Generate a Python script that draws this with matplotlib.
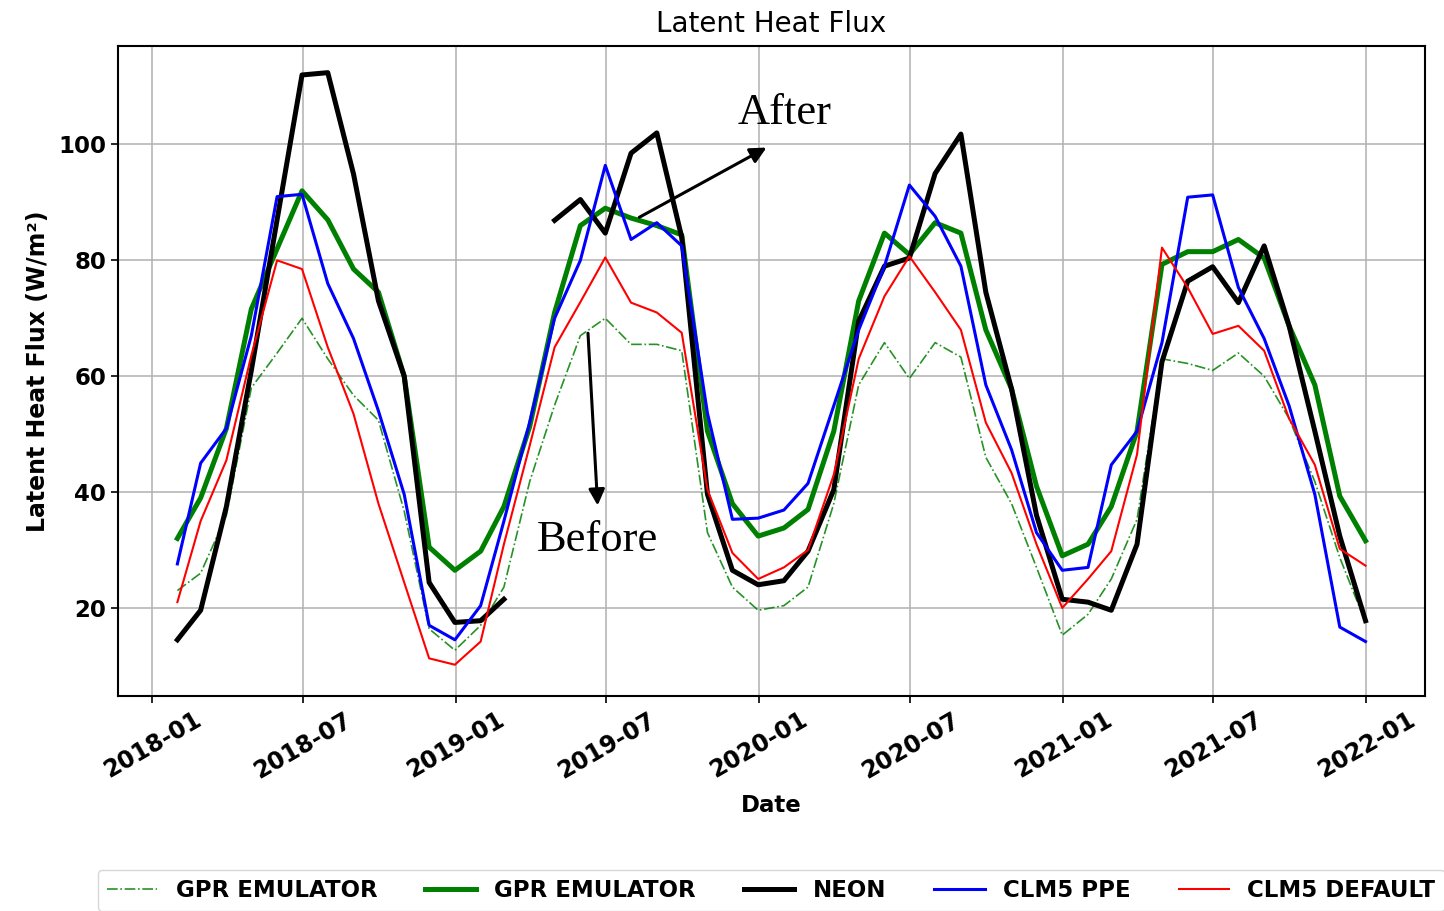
import numpy as np
import pandas as pd
import matplotlib
matplotlib.use("Agg")
from matplotlib import pyplot as plt
import matplotlib.dates as mdates

# monthly means, Jan 2018 .. Dec 2021 (month-end dates)
dates = pd.date_range("2018-01-31", periods=48, freq="ME")

gpr_before = [23, 26, 36, 58, 64, 70, 63, 56.7, 52.4, 36.7, 16.4, 12.7,
              17, 23.6, 41.8, 55, 67, 70, 65.5, 65.5, 64.4, 33, 23.6, 19.6,
              20.4, 23.6, 38, 58.5, 65.8, 59.6, 65.8, 63.3, 46, 38, 27, 15.3,
              18.9, 25, 35.3, 63, 62.2, 61, 64, 60, 52.7, 41.8, 28.7, 17.5]

gpr_after = [32, 39, 51, 71.6, 82, 92, 87, 78.5, 74.5, 60, 30.5, 26.5,
             29.8, 37.5, 51.3, 71, 86, 89, 87.3, 86, 84.4, 50.5, 38, 32.4,
             33.8, 37, 50.5, 73, 84.7, 81, 86.5, 84.7, 68, 57.8, 41, 29,
             31, 37.5, 50.5, 79.3, 81.5, 81.5, 83.6, 80.4, 68.7, 58.5, 39.3, 31.6]

# March 2019 missing in the tower record
neon = [14.5, 19.6, 37.5, 61, 87, 112, 112.4, 94.9, 73, 60, 24.4, 17.5,
        17.8, 21.5, np.nan, 86.9, 90.5, 84.7, 98.5, 102, 84, 39.6, 26.5, 24,
        24.7, 29.8, 40.4, 69.5, 79, 80.4, 95, 101.8, 74.5, 57.8, 36, 21.5,
        21, 19.6, 31, 62.5, 76.4, 78.9, 72.7, 82.5, 68.7, 50.5, 32.4, 17.8]

clm5_ppe = [27.6, 45, 51, 67, 91, 91.4, 76, 66.5, 54, 39.6, 17, 14.5,
            20.4, 35, 52, 70, 80, 96.4, 83.6, 86.5, 82.5, 53.6, 35.3, 35.5,
            36.9, 41.5, 54.9, 68, 79, 93, 87.6, 79, 58.5, 47.3, 33, 26.5,
            27, 44.7, 50.5, 65.8, 90.9, 91.3, 75.3, 66.5, 54.9, 39.6, 16.7, 14.2]

clm5_default = [21, 35, 45.5, 63.6, 80, 78.5, 65, 53.5, 38, 24.4, 11.3, 10.2,
                14.2, 31, 48, 65, 72.8, 80.5, 72.7, 71, 67.5, 40.4, 29.5, 25,
                27, 30, 43, 63, 73.8, 80.7, 74.5, 68, 52, 43.3, 31, 20,
                25, 29.8, 46.5, 82.2, 75.3, 67.3, 68.7, 64.4, 52.7, 44.7, 30.2, 27.3]

fig = plt.figure(figsize=(14.44, 9.11), dpi=100)
ax = fig.add_axes([0.0817, 0.236, 0.9051, 0.7135])

ax.plot(dates, gpr_before, color="green", ls="-.", lw=1.2, alpha=0.85, label="GPR EMULATOR")
ax.plot(dates, gpr_after, color="green", lw=3.6, label="GPR EMULATOR")
ax.plot(dates, neon, color="black", lw=3.6, label="NEON")
ax.plot(dates, clm5_ppe, color="blue", lw=2.2, label="CLM5 PPE")
ax.plot(dates, clm5_default, color="red", lw=1.5, label="CLM5 DEFAULT")

ax.set_ylim(4.8, 117)
ax.set_yticks([20, 40, 60, 80, 100])
ax.xaxis.set_major_locator(mdates.MonthLocator(bymonth=[1, 7]))
ax.xaxis.set_major_formatter(mdates.DateFormatter("%Y-%m"))
ax.grid(True, color="#b0b0b0", lw=1.1)
for s in ax.spines.values():
    s.set_linewidth(1.5)
ax.tick_params(width=1.2, length=5)

for lab in ax.get_xticklabels():
    lab.set_rotation(30)
    lab.set_ha("center")
    lab.set_fontweight("bold")
    lab.set_fontsize(17)
for lab in ax.get_yticklabels():
    lab.set_fontweight("bold")
    lab.set_fontsize(16.5)

ax.set_title("Latent Heat Flux", fontsize=20, pad=10)
ax.set_xlabel("Date", fontsize=16.5, fontweight="bold", labelpad=8)
ax.set_ylabel("Latent Heat Flux (W/m²)", fontsize=17, fontweight="bold", labelpad=6)

# before / after callouts
ax.annotate("", xy=(pd.Timestamp("2020-01-13"), 99.7), xytext=(pd.Timestamp("2019-08-07"), 87.2),
            arrowprops=dict(arrowstyle="-|>", color="black", lw=2.2, mutation_scale=24))
ax.text(pd.Timestamp("2020-02-01"), 105.5, "After", fontsize=32, family="Liberation Serif",
        ha="center", va="center")
ax.annotate("", xy=(pd.Timestamp("2019-06-21"), 37.2), xytext=(pd.Timestamp("2019-06-09"), 67.9),
            arrowprops=dict(arrowstyle="-|>", color="black", lw=2.2, mutation_scale=24))
ax.text(pd.Timestamp("2019-06-21"), 31.8, "Before", fontsize=32, family="Liberation Serif",
        ha="center", va="center")

fig.legend(loc="upper center", bbox_to_anchor=(0.534, 0.058), ncol=5,
           prop={"weight": "bold", "size": 16.5}, handlelength=2.2,
           handletextpad=0.8, columnspacing=2.1, frameon=True)

fig.savefig("out.png", dpi=100)
